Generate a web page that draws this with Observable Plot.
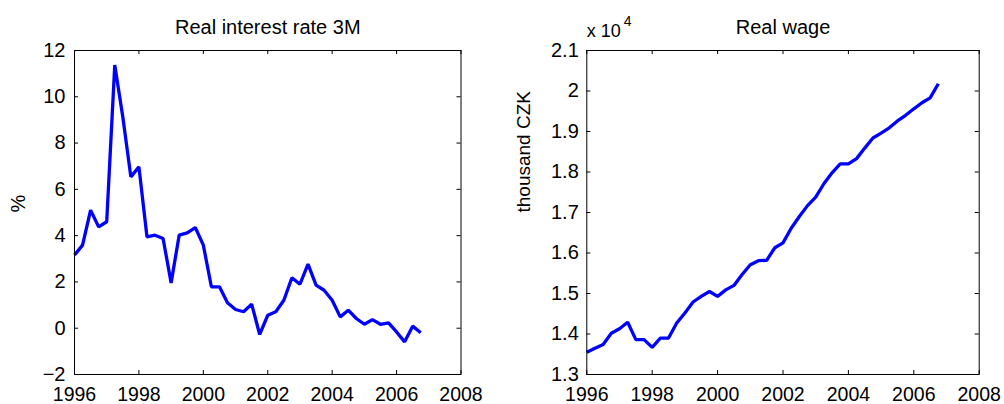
<!DOCTYPE html>
<html>
<head>
<meta charset="utf-8">
<script src="https://cdn.jsdelivr.net/npm/d3@7"></script>
<script src="https://cdn.jsdelivr.net/npm/@observablehq/plot@0.6"></script>
<style>
  html, body { margin: 0; padding: 0; background: #fff; }
  #wrap { display: flex; width: 1004px; height: 404px; }
  #wrap svg { display: block; }
</style>
</head>
<body>
<div id="wrap"></div>
<script>
// Quarterly observations, 1996Q1 .. 2006Q4
const quarterTimes = [
  1996.00, 1996.25, 1996.50, 1996.75, 1997.00, 1997.25, 1997.50, 1997.75,
  1998.00, 1998.25, 1998.50, 1998.75, 1999.00, 1999.25, 1999.50, 1999.75,
  2000.00, 2000.25, 2000.50, 2000.75, 2001.00, 2001.25, 2001.50, 2001.75,
  2002.00, 2002.25, 2002.50, 2002.75, 2003.00, 2003.25, 2003.50, 2003.75,
  2004.00, 2004.25, 2004.50, 2004.75, 2005.00, 2005.25, 2005.50, 2005.75,
  2006.00, 2006.25, 2006.50, 2006.75
];
// Real interest rate 3M (%)
const realInterest = [
  3.16, 3.59, 5.10, 4.38, 4.60, 11.37, 9.13, 6.54,
  6.97, 3.95, 4.02, 3.88, 1.96, 4.02, 4.12, 4.35,
  3.59, 1.79, 1.79, 1.10, 0.81, 0.71, 1.04, -0.27,
  0.56, 0.71, 1.21, 2.18, 1.90, 2.77, 1.86, 1.64,
  1.21, 0.49, 0.78, 0.42, 0.17, 0.37, 0.17, 0.23,
  -0.16, -0.59, 0.09, -0.20
];
// Real wage (CZK)
const realWage = [
  13550, 13650, 13740, 14020, 14130, 14290, 13860, 13860,
  13670, 13900, 13900, 14270, 14520, 14790, 14930, 15050,
  14930, 15090, 15200, 15470, 15710, 15810, 15820, 16130,
  16250, 16610, 16900, 17170, 17380, 17710, 17980, 18200,
  18200, 18330, 18590, 18840, 18960, 19090, 19260, 19400,
  19560, 19710, 19830, 20180
];
const xTicks = [1996, 1998, 2000, 2002, 2004, 2006, 2008];
const interestTicks = [-2, 0, 2, 4, 6, 8, 10, 12];
const wageTicks = [13000, 14000, 15000, 16000, 17000, 18000, 19000, 20000, 21000];

const titles = ["Real interest rate 3M", "Real wage"];
const yLabels = ["%", "thousand CZK"];
const wageExponentBase = "x 10";
const wageExponent = "4";

const FONT = '"Liberation Sans", Arial, Helvetica, sans-serif';
const W = 502, H = 404, MT = 50, MB = 30;

function panel(opts) {
  const {marginLeft, marginRight, yDomain, yTicks, yFormat, values, title, ylabel, ylabelDx, ylabelSize, tickPad, extra = []} = opts;
  const rows = quarterTimes.map((t, i) => ({t, v: values[i]}));
  const pw = W - marginLeft - marginRight;
  const ph = H - MT - MB;
  return Plot.plot({
    width: W, height: H,
    marginLeft, marginRight, marginTop: MT, marginBottom: MB,
    style: {fontFamily: FONT, fontSize: "20px", color: "black", background: "white", overflow: "visible"},
    x: {domain: [1996, 2008]},
    y: {domain: yDomain},
    marks: [
      Plot.line(rows, {x: "t", y: "v", stroke: "#0000ff", strokeWidth: 3.3, strokeLinejoin: "miter", strokeLinecap: "butt"}),
      Plot.frame({stroke: "black", strokeWidth: 1}),
      // inward ticks on all four sides
      Plot.tickX(xTicks, {x: d => d, stroke: "black", strokeWidth: 1, insetTop: ph - 4}),
      Plot.tickX(xTicks, {x: d => d, stroke: "black", strokeWidth: 1, insetBottom: ph - 4}),
      Plot.tickY(yTicks, {y: d => d, stroke: "black", strokeWidth: 1, insetRight: pw - 4}),
      Plot.tickY(yTicks, {y: d => d, stroke: "black", strokeWidth: 1, insetLeft: pw - 4}),
      Plot.axisX({anchor: "bottom", ticks: xTicks, tickSize: 0, tickPadding: 12.5, tickFormat: d => String(d), label: null, fontSize: 19.5, fill: "black"}),
      Plot.axisY({anchor: "left", ticks: yTicks, tickSize: 0, tickPadding: tickPad, tickFormat: yFormat, label: null, fontSize: 20, fill: "black"}),
      Plot.text([title], {frameAnchor: "top", dy: -22.5, lineAnchor: "middle", text: d => d, fontSize: 20, fill: "black"}),
      Plot.text([ylabel], {frameAnchor: "left", dx: ylabelDx, rotate: -90, lineAnchor: "middle", text: d => d, fontSize: ylabelSize, fill: "black"}),
      ...extra
    ]
  });
}

const left = panel({
  marginLeft: 74, marginRight: 41.5,
  yDomain: [-2, 12], yTicks: interestTicks,
  yFormat: d => (d < 0 ? "\u2212" + Math.abs(d) : String(d)),
  values: realInterest, title: titles[0], ylabel: yLabels[0], ylabelDx: -55.5, ylabelSize: 20, tickPad: 9
});

const right = panel({
  marginLeft: 84.3, marginRight: 25.3,
  yDomain: [13000, 21000], yTicks: wageTicks,
  yFormat: d => String(+(d / 1e4).toFixed(1)),
  values: realWage, title: titles[1], ylabel: yLabels[1], ylabelDx: -63.3, ylabelSize: 19, tickPad: 8,
  extra: [
    Plot.text([wageExponentBase], {frameAnchor: "top-left", dx: 0, dy: -19, textAnchor: "start", lineAnchor: "middle", text: d => d, fontSize: 18, fill: "black"}),
    Plot.text([wageExponent], {frameAnchor: "top-left", dx: 37, dy: -29, textAnchor: "start", lineAnchor: "middle", text: d => d, fontSize: 14, fill: "black"})
  ]
});

const wrap = document.getElementById("wrap");
wrap.appendChild(left);
wrap.appendChild(right);
</script>
</body>
</html>
